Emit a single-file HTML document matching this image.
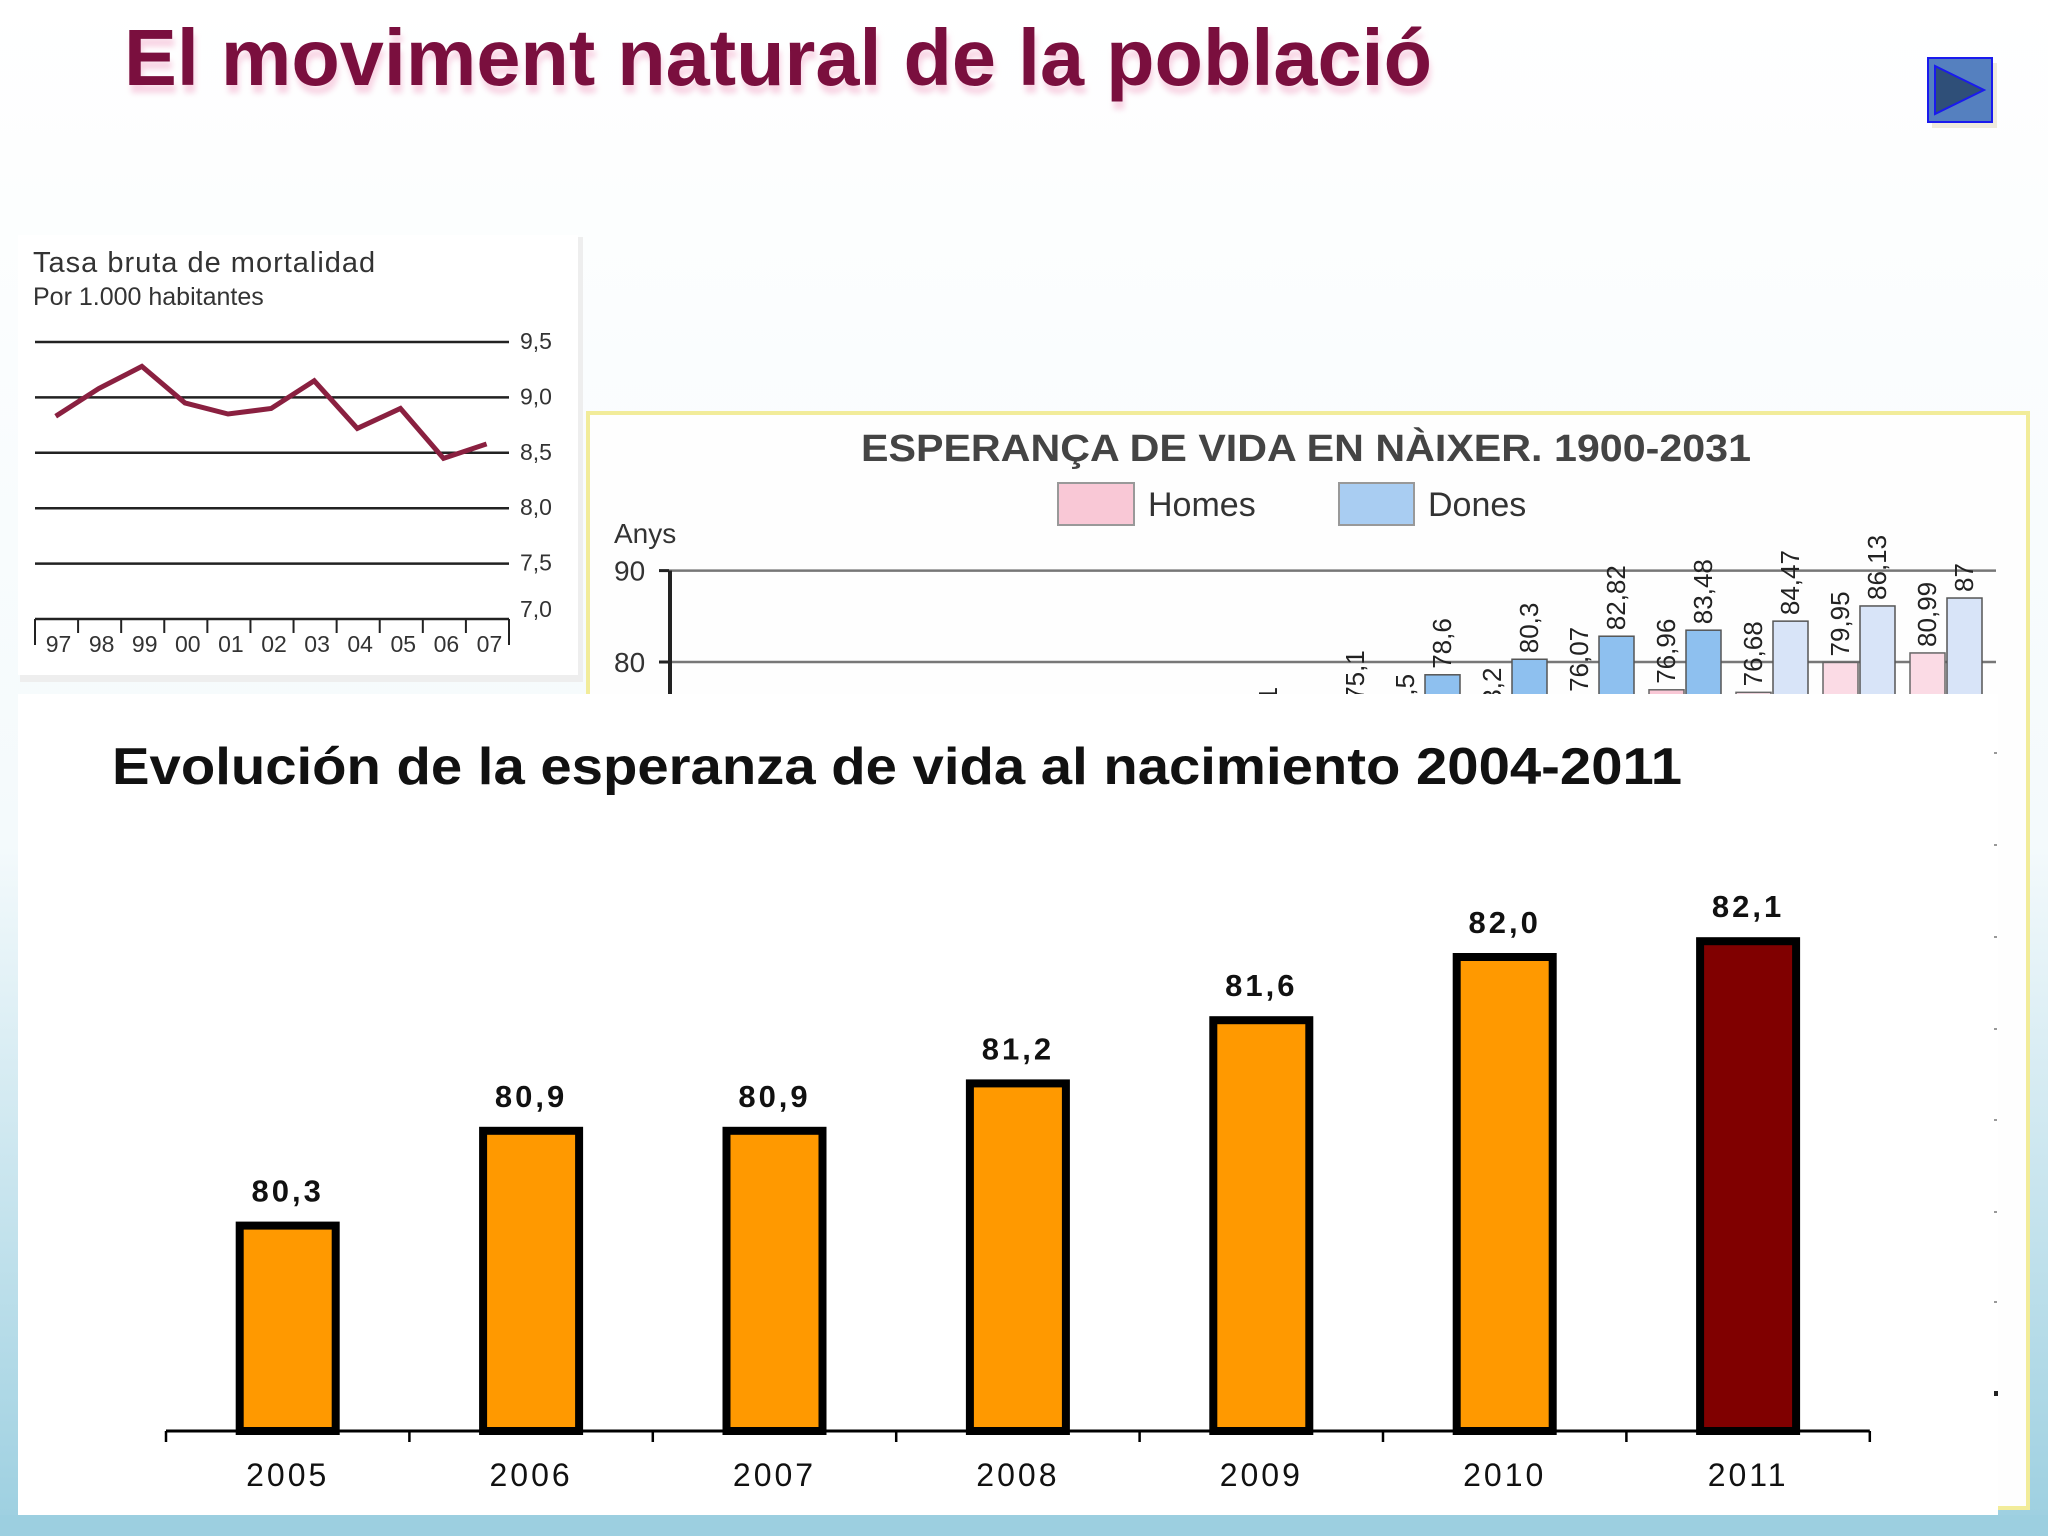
<!DOCTYPE html>
<html><head><meta charset="utf-8"><style>
html,body{margin:0;padding:0;background:#fff;}
svg{display:block;font-family:"Liberation Sans",sans-serif;}
</style></head><body>
<svg id="root" width="2048" height="1536" viewBox="0 0 2048 1536" xmlns="http://www.w3.org/2000/svg">
<defs>
<linearGradient id="bgGrad" x1="0" y1="0" x2="0" y2="1">
<stop offset="0" stop-color="#ffffff"/><stop offset="0.55" stop-color="#f4fafc"/><stop offset="1" stop-color="#9ccfe0"/>
</linearGradient>
<filter id="tshadow" x="-5%" y="-20%" width="110%" height="160%"><feGaussianBlur stdDeviation="3"/></filter>
<clipPath id="midClip"><rect x="590" y="415" width="1436" height="279"/></clipPath>
</defs>
<rect x="0" y="0" width="2048" height="1536" fill="url(#bgGrad)"/>
<rect x="0" y="1515" width="2048" height="21" fill="#9ccfe0"/>

<text x="126" y="93" font-size="80" font-weight="bold" fill="#f4b8d2" opacity="0.6" filter="url(#tshadow)" textLength="1308" lengthAdjust="spacingAndGlyphs">El moviment natural de la població</text>
<text x="124" y="85" font-size="80" font-weight="bold" fill="#7a0f3e" textLength="1308" lengthAdjust="spacingAndGlyphs">El moviment natural de la població</text>

<g>
<rect x="1932" y="63" width="65" height="65" fill="#eeeadc"/>
<rect x="1928" y="58" width="64" height="64" fill="#5580bf" stroke="#1a1aee" stroke-width="2"/>
<polygon points="1935,66 1935,114 1984,90" fill="#2f4f78" stroke="#1a1aee" stroke-width="2"/>
</g>

<g>
<rect x="20" y="237" width="563" height="445" fill="#eeeeee"/>
<rect x="18" y="235" width="560" height="440" fill="#ffffff"/>
<text x="33" y="272" font-size="29" fill="#333" letter-spacing="1">Tasa bruta de mortalidad</text>
<text x="33" y="305" font-size="25" fill="#333">Por 1.000 habitantes</text>
<g id="mortGrid"></g>
<g id="mortAxis"></g>
<polyline id="mortLine" fill="none" stroke="#8a2040" stroke-width="5" stroke-linejoin="miter"/>
</g>

<g>
<rect x="588" y="413" width="1440" height="1095" fill="#fefefe" stroke="#f2ec9a" stroke-width="4"/>
<text x="1306" y="461" font-size="38" font-weight="bold" fill="#444" text-anchor="middle" textLength="890" lengthAdjust="spacingAndGlyphs">ESPERANÇA DE VIDA EN NÀIXER. 1900-2031</text>
<g>
<rect x="1058" y="483" width="76" height="42" fill="#f9c8d6" stroke="#999" stroke-width="2"/>
<text x="1148" y="516" font-size="34" fill="#333">Homes</text>
</g>
<g>
<rect x="1339" y="483" width="75" height="42" fill="#a9cdf2" stroke="#999" stroke-width="2"/>
<text x="1428" y="516" font-size="34" fill="#333">Dones</text>
</g>
<text x="614" y="543" font-size="28" fill="#333">Anys</text>
<g id="midChart" clip-path="url(#midClip)"></g>
</g>

<g>
<rect x="18" y="694" width="1980" height="821" fill="#ffffff"/>
<text x="112" y="784" font-size="52" font-weight="bold" fill="#111" textLength="1570" lengthAdjust="spacingAndGlyphs">Evolución de la esperanza de vida al nacimiento 2004-2011</text>
<g id="mainChart"></g>
</g>
</svg>
<script>
const NS='http://www.w3.org/2000/svg';
function mk(tag,attrs,parent,txt){const e=document.createElementNS(NS,tag);for(const k in attrs)e.setAttribute(k,attrs[k]);if(txt!==undefined)e.textContent=txt;parent.appendChild(e);return e;}

const mortYears=['97','98','99','00','01','02','03','04','05','06','07'];
const mortValues=[8.83,9.08,9.28,8.95,8.85,8.9,9.15,8.72,8.9,8.45,8.58];
const mortTicks=[9.5,9.0,8.5,8.0,7.5,7.0];
const mortTickLabels=['9,5','9,0','8,5','8,0','7,5','7,0'];
const mX0=35,mX1=509;
function mY(v){return 619-(v-7.0)*(619-342)/2.5;}
function mXc(i){return mX0+(i+0.48)*(mX1-mX0)/mortYears.length;}
const mg=document.getElementById('mortGrid');
mortTicks.forEach((t,i)=>{
  if(t>7.0){const l=mk('line',{x1:mX0,x2:mX1,y1:mY(t),y2:mY(t),stroke:'#222','stroke-width':2.5},mg);
  
  }
  const tx=mk('text',{x:520,y:mY(t)+(t>7?7:-2),'font-size':23,fill:'#333'},mg,mortTickLabels[i]);
  
  
});
const ma=document.getElementById('mortAxis');
mk('line',{x1:mX0,x2:mX1,y1:mY(7),y2:mY(7),stroke:'#222','stroke-width':2.5},ma);
const cw=(mX1-mX0)/mortYears.length;
for(let i=0;i<=mortYears.length;i++){mk('line',{x1:mX0+i*cw,x2:mX0+i*cw,y1:mY(7),y2:mY(7)+(i==0||i==mortYears.length?26:14),stroke:'#222','stroke-width':2},ma);}
mortYears.forEach((y,i)=>{const t=mk('text',{x:mX0+i*cw+cw/2+2,y:652,'font-size':23,fill:'#333','text-anchor':'middle'},ma,y);

});
document.getElementById('mortLine').setAttribute('points',mortValues.map((v,i)=>mXc(i)+','+mY(v)).join(' '));

const midHomes=[64.0,69.0,72.5,73.2,76.07,76.96,76.68,79.95,80.99];
const midDones=[71.1,75.1,78.6,80.3,82.82,83.48,84.47,86.13,87];
const midHomesLabels=['64,1','69,1','72,5','73,2','76,07','76,96','76,68','79,95','80,99'];
const midDonesLabels=['71,1','75,1','78,6','80,3','82,82','83,48','84,47','86,13','87'];
const midProjected=[false,false,false,false,false,false,true,true,true];
const midTicks=[90,80];
function yMid(v){return 662-(v-80)*9.14;}
function xDones(i){return 1268+87*i;}
const mc=document.getElementById('midChart');
midTicks.forEach(t=>{mk('line',{x1:669,x2:1996,y1:yMid(t),y2:yMid(t),stroke:'#777','stroke-width':2.5},mc);
mk('line',{x1:659,x2:669,y1:yMid(t),y2:yMid(t),stroke:'#222','stroke-width':3},mc);
const tl=mk('text',{x:614,y:yMid(t)+10,'font-size':28,fill:'#333'},mc,String(t));

});
mk('line',{x1:670,x2:670,y1:yMid(90),y2:720,stroke:'#222','stroke-width':4},mc);
midDones.forEach((d,i)=>{
  const h=midHomes[i];const xd=xDones(i),xh=xd-37;
  const hb=mk('rect',{x:xh-17,y:yMid(h),width:35,height:800,fill:midProjected[i]?'#fbdbe5':'#f9c8d6',stroke:'#666','stroke-width':1.5},mc);
  
  
  const db=mk('rect',{x:xd-17,y:yMid(d),width:35,height:800,fill:midProjected[i]?'#d8e4f8':'#8ec0ef',stroke:'#555','stroke-width':1.5},mc);
  
  
  const hl=mk('text',{x:0,y:0,'font-size':26,fill:'#222',transform:`translate(${xh+9},${yMid(h)-6}) rotate(-90)`},mc,midHomesLabels[i]);
  
  
  const dl=mk('text',{x:0,y:0,'font-size':26,fill:'#222',transform:`translate(${xd+9},${yMid(d)-6}) rotate(-90)`},mc,midDonesLabels[i]);
  
  
});

const mainYears=['2005','2006','2007','2008','2009','2010','2011'];
const mainValues=[80.3,80.9,80.9,81.2,81.6,82.0,82.1];
const mainLabels=['80,3','80,9','80,9','81,2','81,6','82,0','82,1'];
const mainColors=['#ff9900','#ff9900','#ff9900','#ff9900','#ff9900','#ff9900','#800000'];
const axisY=1431,yMin=79.0,pxPerUnit=158,xStart=166,catW=243.4;
function yMain(v){return axisY-(v-yMin)*pxPerUnit;}
function xMain(i){return xStart+catW*(i+0.5);}
const g=document.getElementById('mainChart');
mainValues.forEach((v,i)=>{
  const y=yMain(v);
  const b=mk('rect',{x:xMain(i)-48,y:y,width:96,height:axisY-y,fill:mainColors[i],stroke:'#000','stroke-width':8},g);
  
  
  const t=mk('text',{x:xMain(i),y:y-24,'font-size':31,'font-weight':'bold',fill:'#111','text-anchor':'middle','letter-spacing':3},g,mainLabels[i]);
  
  
  const yl=mk('text',{x:xMain(i),y:1486,'font-size':32,fill:'#111','text-anchor':'middle','letter-spacing':3},g,mainYears[i]);
  
  
});
const ax=mk('line',{x1:xStart,x2:xStart+catW*7,y1:axisY,y2:axisY,stroke:'#000','stroke-width':3},g);


for(let i=0;i<=7;i++){mk('line',{x1:xStart+catW*i,x2:xStart+catW*i,y1:axisY,y2:axisY+11,stroke:'#000','stroke-width':2.5},g);}
[752,844,936,1028,1119,1211,1301].forEach(y=>mk('rect',{x:1994,y:y,width:3,height:2,fill:'#999'},g));
mk('rect',{x:1994,y:1391,width:4,height:5,fill:'#222'},g);
</script>
</body></html>
